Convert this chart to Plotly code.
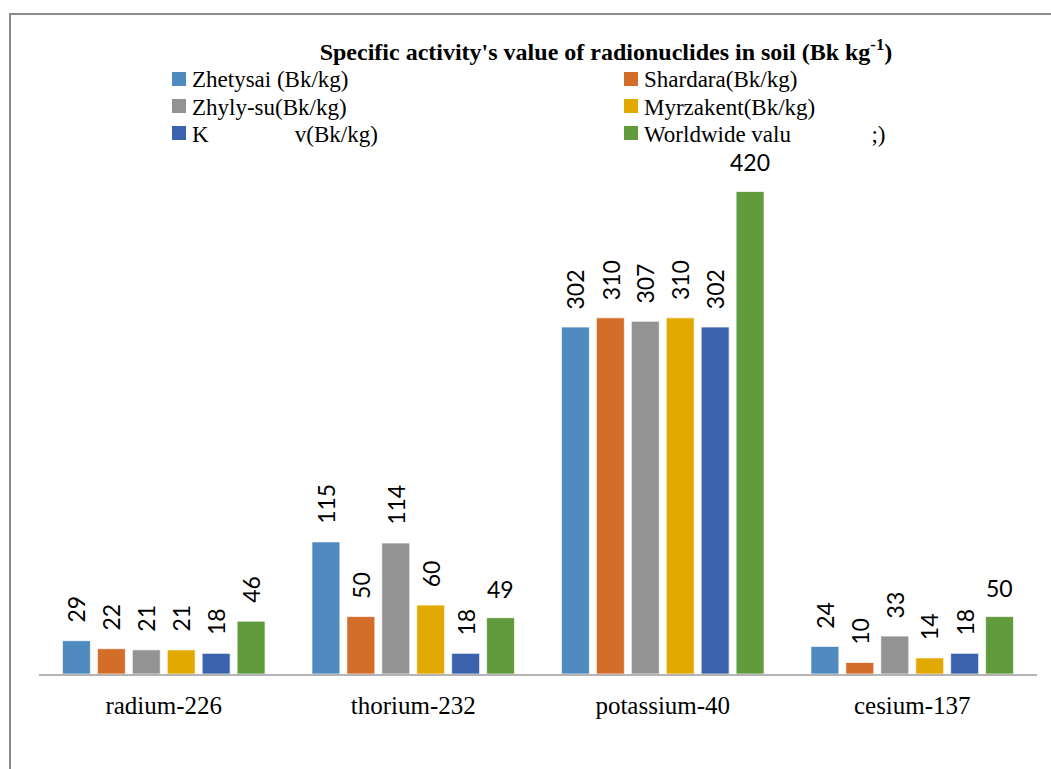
import plotly.graph_objects as go

categories = ["radium-226", "thorium-232", "potassium-40", "cesium-137"]

series_names = [
    "Zhetysai (Bk/kg)",
    "Shardara(Bk/kg)",
    "Zhyly-su(Bk/kg)",
    "Myrzakent(Bk/kg)",
    "K" + "\u00a0" * 15 + "v(Bk/kg)",
    "Worldwide valu" + "\u00a0" * 14 + ";)",
]

zhetysai = [29, 115, 302, 24]
shardara = [22, 50, 310, 10]
zhyly_su = [21, 114, 307, 33]
myrzakent = [21, 60, 310, 14]
k_series = [18, 18, 302, 18]
worldwide = [46, 49, 420, 50]

series_values = [zhetysai, shardara, zhyly_su, myrzakent, k_series, worldwide]

colors = ["#4F8BC0", "#D36D2A", "#939393", "#E2AA00", "#3B63AD", "#629B3E"]

# labels drawn horizontally (series index, category index); others are rotated
horizontal_labels = {(5, 1), (5, 2), (5, 3)}

W, H = 1051, 769
L, R, T, B = 39, 14, 157, 95
plot_w = W - L - R
plot_h = H - T - B
bargap = 0.16
bargroupgap = 0.2
slot = plot_w / len(categories) * (1 - bargap) / len(series_values)


def px_x(px):
    return (px - L) / plot_w


def px_y(py):
    return (H - B - py) / plot_h


serif = "Liberation Serif, Times New Roman, serif"

fig = go.Figure()
for name, vals, col in zip(series_names, series_values, colors):
    fig.add_trace(go.Bar(
        x=categories, y=vals, name=name, showlegend=False,
        marker=dict(color=col, line=dict(color="rgba(255,255,255,0.7)", width=1)),
    ))

annotations = []
shapes = []
n = len(series_values)
for si, vals in enumerate(series_values):
    for ci, v in enumerate(vals):
        horiz = (si, ci) in horizontal_labels
        annotations.append(dict(
            x=categories[ci], y=v, xref="x", yref="y",
            text=str(v), showarrow=False,
            textangle=0 if horiz else -90,
            xanchor="center", yanchor="bottom",
            xshift=(si - (n - 1) / 2) * slot,
            yshift=13 if horiz else 16,
            font=dict(family="Lato, Open Sans, sans-serif", size=23, color="#000000"),
        ))

# legend (two columns, three rows)
col_x = [172, 624]
row_y = [79, 106, 133]
mk = 14
for i, (name, col) in enumerate(zip(series_names, colors)):
    cx = col_x[i % 2]
    cy = row_y[i // 2]
    shapes.append(dict(
        type="rect", xref="paper", yref="paper",
        x0=px_x(cx), x1=px_x(cx + mk), y0=px_y(cy + mk / 2), y1=px_y(cy - mk / 2),
        fillcolor=col, line=dict(width=0),
    ))
    annotations.append(dict(
        x=px_x(cx + mk + 5), y=px_y(cy + 1), xref="paper", yref="paper",
        text=name, showarrow=False, xanchor="left", yanchor="middle",
        borderpad=0,
        font=dict(family=serif, size=23, color="#000000"),
    ))

shapes.append(dict(
    type="rect", xref="paper", yref="paper",
    x0=px_x(10), x1=px_x(W + 20), y0=px_y(H + 30), y1=px_y(14),
    line=dict(color="#8C8C8C", width=2), fillcolor="rgba(0,0,0,0)", layer="below",
))

fig.update_layout(
    width=W, height=H,
    margin=dict(l=L, r=R, t=T, b=B, autoexpand=False),
    paper_bgcolor="white", plot_bgcolor="white",
    barmode="group", bargap=bargap, bargroupgap=bargroupgap,
    title=dict(
        text="Specific activity's value of radionuclides in soil (Bk kg<sup>-1</sup>)",
        x=606 / W, xanchor="center", xref="container",
        y=1 - 52 / H, yanchor="middle", yref="container",
        font=dict(family=serif, size=24, color="#000000", weight="bold"),
    ),
    showlegend=False,
    xaxis=dict(
        showline=True, linecolor="#B4B4B4", linewidth=2,
        showgrid=False, ticks="", zeroline=False,
        tickfont=dict(family=serif, size=25, color="#000000"),
        ticklabelstandoff=8,
    ),
    yaxis=dict(
        range=[0, 450], visible=False, showgrid=False, zeroline=False,
    ),
    annotations=annotations,
    shapes=shapes,
)

fig.write_html("out.html", config={"displayModeBar": False},
               post_script="document.body.style.margin='0';")
